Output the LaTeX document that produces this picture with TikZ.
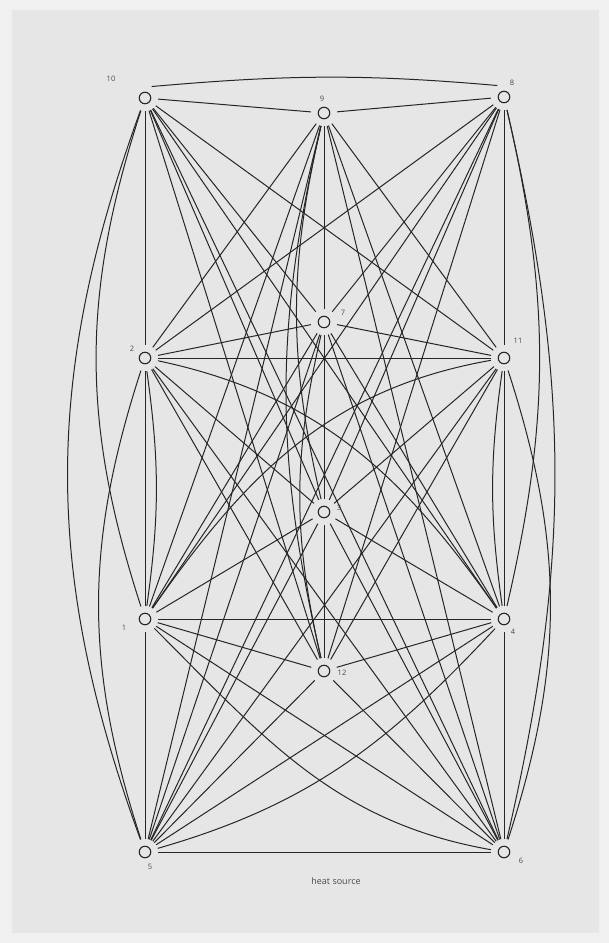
\documentclass[tikz,border=0pt]{standalone}
\usepackage{fontspec}
\setmainfont{Open Sans}
\definecolor{outerbg}{HTML}{F0F0F0}
\definecolor{bg}{HTML}{E6E6E6}
\definecolor{linec}{HTML}{262626}
\definecolor{labc}{HTML}{4A4A4A}
\tikzset{
  vtx/.style={circle, draw=linec, line width=1.1pt, minimum size=11.5pt, inner sep=0pt, outer sep=7.5pt},
  edge/.style={draw=linec, line width=1pt},
  lab/.style={font=\fontsize{7.5}{8}\selectfont, text=labc, inner sep=0pt},
}
\begin{document}
\begin{tikzpicture}[x=1pt,y=1pt]
\useasboundingbox (0,0) rectangle (609,-943);
\fill[outerbg] (0,0) rectangle (609,-943);
\fill[bg] (12,-10) rectangle (599,-933);
% nodes
\node[vtx] (a10) at (145,-98) {};
\node[vtx] (a9)  at (324,-113) {};
\node[vtx] (a8)  at (504,-97) {};
\node[vtx] (a2)  at (145,-358) {};
\node[vtx] (a7)  at (324,-322) {};
\node[vtx] (a11) at (504,-358) {};
\node[vtx] (a1)  at (145,-619) {};
\node[vtx] (a3)  at (324,-512) {};
\node[vtx] (a4)  at (504,-619) {};
\node[vtx] (a5)  at (145,-852) {};
\node[vtx] (a12) at (324,-671) {};
\node[vtx] (a6)  at (504,-852) {};
% labels
\node[lab] (l10) at (111,-79) {10};
\node[lab] (l9)  at (322,-99) {9};
\node[lab] (l8)  at (512,-83) {8};
\node[lab] (l2)  at (132,-349) {2};
\node[lab] (l11) at (518,-341) {11};
\node[lab] (l7)  at (343,-313) {7};
\node[lab] (l3)  at (339,-508) {3};
\node[lab] (l12) at (342,-673) {12};
\node[lab] (l1)  at (124,-628) {1};
\node[lab] (l4)  at (513,-632) {4};
\node[lab] (l5)  at (150,-867) {5};
\node[lab] (l6)  at (521,-861) {6};
\node[lab, font=\fontsize{9}{10}\selectfont] (hs) at (336,-881) {heat source};
% edges from 1
\draw[edge] (a1) -- (a2);
\draw[edge] (a1) -- (a3);
\draw[edge] (a1) -- (a4);
\draw[edge] (a1) -- (a5);
\draw[edge] (a1) -- (a6);
\draw[edge] (a1) to[out=-45,in=170] (a6);
\draw[edge] (a1) -- (a7);
\draw[edge] (a1) -- (a8);
\draw[edge] (a1) -- (a9);
\draw[edge] (a10) to[bend right=18] (a1);
\draw[edge] (a11) to[out=190,in=55] (a1);
\draw[edge] (a1) -- (a12);
% from 2
\draw[edge] (a2) to[bend left=8] (a1);
\draw[edge] (a2) -- (a3);
\draw[edge] (a2) to[out=-12,in=125] (a4);
\draw[edge] (a2) to[bend right=18] (a5);
\draw[edge] (a2) -- (a6);
\draw[edge] (a2) -- (a7);
\draw[edge] (a2) -- (a8);
\draw[edge] (a2) -- (a9);
\draw[edge] (a2) -- (a10);
\draw[edge] (a2) -- (a11);
\draw[edge] (a2) -- (a12);
% from 3
\draw[edge] (a3) -- (a4);
\draw[edge] (a3) -- (a5);
\draw[edge] (a3) -- (a6);
\draw[edge] (a3) -- (a7);
\draw[edge] (a3) -- (a8);
\draw[edge] (a9) to[bend right=13] (a3);
\draw[edge] (a3) -- (a10);
\draw[edge] (a3) -- (a11);
\draw[edge] (a3) -- (a12);
% from 4
\draw[edge] (a5) -- (a4);
\draw[edge] (a5) to[out=16,in=227] (a4);
\draw[edge] (a4) -- (a6);
\draw[edge] (a4) -- (a7);
\draw[edge] (a8) to[bend left=13] (a4);
\draw[edge] (a4) -- (a9);
\draw[edge] (a4) -- (a10);
\draw[edge] (a4) -- (a11);
\draw[edge] (a11) to[bend right=8] (a4);
\draw[edge] (a4) -- (a12);
% from 5
\draw[edge] (a5) -- (a6);
\draw[edge] (a5) -- (a7);
\draw[edge] (a5) -- (a8);
\draw[edge] (a5) -- (a9);
\draw[edge] (a10) to[bend right=20] (a5);
\draw[edge] (a5) -- (a11);
\draw[edge] (a5) -- (a12);
% from 6
\draw[edge] (a6) -- (a7);
\draw[edge] (a8) to[bend left=13] (a6);
\draw[edge] (a6) -- (a9);
\draw[edge] (a6) -- (a10);
\draw[edge] (a11) to[bend left=18] (a6);
\draw[edge] (a6) -- (a12);
% from 7
\draw[edge] (a7) -- (a8);
\draw[edge] (a7) -- (a9);
\draw[edge] (a7) -- (a10);
\draw[edge] (a7) -- (a11);
\draw[edge] (a7) to[bend right=13] (a12);
% from 8
\draw[edge] (a8) -- (a9);
\draw[edge] (a10.60) to[out=5,in=175] (a8.120);
\draw[edge] (a8) -- (a11);
\draw[edge] (a8) -- (a12);
% from 9
\draw[edge] (a9) -- (a10);
\draw[edge] (a9) -- (a11);
\draw[edge] (a9) to[bend right=13] (a12);
% from 10, 11
\draw[edge] (a10) -- (a11);
\draw[edge] (a10) -- (a12);
\draw[edge] (a11) -- (a12);
\end{tikzpicture}
\end{document}
